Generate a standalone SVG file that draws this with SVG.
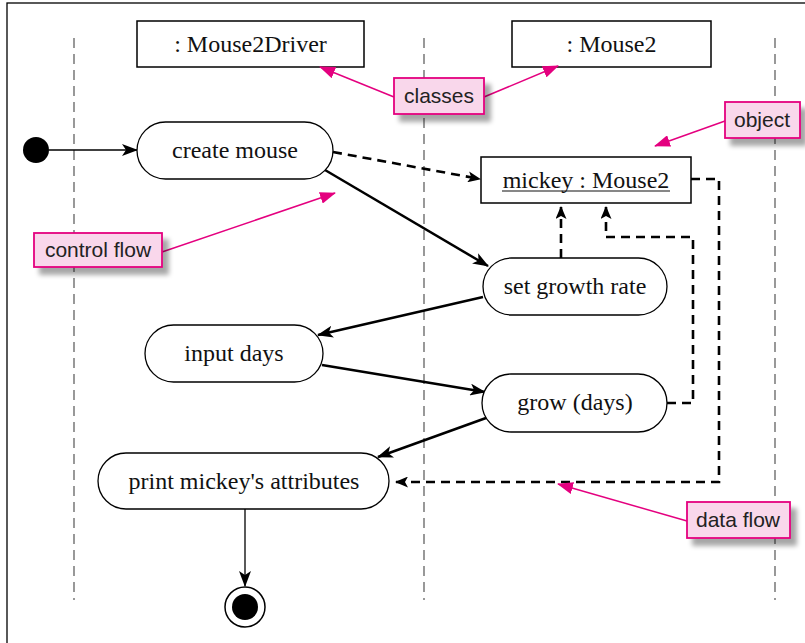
<svg xmlns="http://www.w3.org/2000/svg" width="805" height="643" viewBox="0 0 805 643">
<defs>
<style>
.lane{stroke:#555;stroke-width:1.2;stroke-dasharray:10 6;fill:none}
.box{fill:#fff;stroke:#000;stroke-width:1.5}
.act{fill:#fff;stroke:#000;stroke-width:1.3}
.t{font-family:"Liberation Serif","Times New Roman",serif;font-size:24px;fill:#111;text-anchor:middle}
.note{fill:#f9d7eb;stroke:#e4007f;stroke-width:1.8}
.nt{font-family:"Liberation Sans",Arial,sans-serif;font-size:21px;fill:#222;text-anchor:middle}
.ctl{stroke:#000;stroke-width:2.5;fill:none;marker-end:url(#ah)}
.thin{stroke:#000;stroke-width:1.3;fill:none;marker-end:url(#ah2)}
.data{stroke:#000;stroke-width:2.6;fill:none;stroke-dasharray:9 6;marker-end:url(#ad)}
.pk{stroke:#e4007f;stroke-width:1.5;fill:none;marker-end:url(#ap)}
</style>
<marker id="ah" viewBox="0 0 16 12" refX="15" refY="6" markerWidth="16" markerHeight="12" orient="auto" markerUnits="userSpaceOnUse"><path d="M0,0 L16,6 L0,12 L4,6 z" fill="#000"/></marker>
<marker id="ah2" viewBox="0 0 16 12" refX="15" refY="6" markerWidth="16" markerHeight="12" orient="auto" markerUnits="userSpaceOnUse"><path d="M0,0 L16,6 L0,12 L4,6 z" fill="#000"/></marker>
<marker id="ad" viewBox="0 0 13 11" refX="12" refY="5.5" markerWidth="13" markerHeight="11" orient="auto" markerUnits="userSpaceOnUse"><path d="M0,0 L13,5.5 L0,11 L3,5.5 z" fill="#000"/></marker>
<marker id="ap" viewBox="0 0 16 12" refX="15" refY="6" markerWidth="16" markerHeight="12" orient="auto" markerUnits="userSpaceOnUse"><path d="M0,0 L16,6 L0,12 z" fill="#e4007f"/></marker>
<filter id="sh" x="-20%" y="-30%" width="150%" height="180%"><feGaussianBlur in="SourceAlpha" stdDeviation="2.5"/><feOffset dx="6" dy="7" result="b"/><feComponentTransfer><feFuncA type="linear" slope="0.35"/></feComponentTransfer><feMerge><feMergeNode/><feMergeNode in="SourceGraphic"/></feMerge></filter>
</defs>
<rect x="0" y="0" width="805" height="643" fill="#fff"/>
<rect x="7" y="3" width="810" height="660" fill="none" stroke="#000" stroke-width="1.3"/>

<g id="lanes">
<line class="lane" x1="74" y1="38" x2="74" y2="600"/>
<line class="lane" x1="424" y1="38" x2="424" y2="600"/>
<line class="lane" x1="775" y1="38" x2="775" y2="600"/>
</g>

<g id="class-driver"><rect class="box" x="137" y="21" width="227" height="46"/><text class="t" x="250.5" y="52">: Mouse2Driver</text></g>
<g id="class-mouse2"><rect class="box" x="512" y="21" width="199" height="46"/><text class="t" x="611.5" y="52">: Mouse2</text></g>

<g id="connectors">
<line class="thin" x1="49" y1="150" x2="137" y2="150"/>
<path class="ctl" d="M325,170 L488,266"/>
<path class="ctl" d="M483,297 L318,335"/>
<path class="ctl" d="M322,365 L485,392"/>
<path class="ctl" d="M486,418 L378,457"/>
<line class="thin" x1="245" y1="509" x2="245" y2="586"/>
<path class="data" d="M333,152 L480,179"/>
<path class="data" d="M561,258 L561,207"/>
<path class="data" d="M667,403 L693,403 L693,237 L606,237 L606,207"/>
<path class="data" d="M691,179 L719,179 L719,482 L396,482"/>
<path class="pk" d="M394,97 L320,67"/>
<path class="pk" d="M484,97 L558,66"/>
<path class="pk" d="M725,121 L655,146"/>
<path class="pk" d="M162,252 L335,193"/>
<path class="pk" d="M687,521 L558,484"/>
</g>

<g id="initial"><circle cx="36" cy="150" r="13" fill="#000"/></g>
<g id="create-mouse"><rect class="act" x="137" y="122" width="196" height="57" rx="28.5"/><text class="t" x="235" y="158">create mouse</text></g>
<g id="mickey"><rect class="box" x="481" y="157" width="210" height="46"/><text class="t" x="586" y="188">mickey : Mouse2</text><line x1="502" y1="191" x2="670" y2="191" stroke="#111" stroke-width="1.2"/></g>
<g id="set-growth-rate"><rect class="act" x="483" y="258" width="184" height="57" rx="28.5"/><text class="t" x="575" y="294">set growth rate</text></g>
<g id="input-days"><rect class="act" x="145" y="325" width="178" height="57" rx="28.5"/><text class="t" x="234" y="361">input days</text></g>
<g id="grow-days"><rect class="act" x="482" y="374" width="185" height="58" rx="29"/><text class="t" x="575" y="410">grow (days)</text></g>
<g id="print"><rect class="act" x="98" y="453" width="291" height="56" rx="28"/><text class="t" x="244" y="489">print mickey's attributes</text></g>
<g id="final"><circle cx="245" cy="607" r="20" fill="#fff" stroke="#000" stroke-width="1.5"/><circle cx="245" cy="607" r="13" fill="#000"/></g>

<g id="note-classes"><rect class="note" x="394" y="78" width="90" height="36" filter="url(#sh)"/><text class="nt" x="439" y="103">classes</text></g>
<g id="note-object"><rect class="note" x="725" y="102" width="75" height="36" filter="url(#sh)"/><text class="nt" x="762" y="127">object</text></g>
<g id="note-control"><rect class="note" x="34" y="233" width="128" height="34" filter="url(#sh)"/><text class="nt" x="98" y="257">control flow</text></g>
<g id="note-data"><rect class="note" x="687" y="502" width="103" height="36" filter="url(#sh)"/><text class="nt" x="738" y="527">data flow</text></g>
</svg>
